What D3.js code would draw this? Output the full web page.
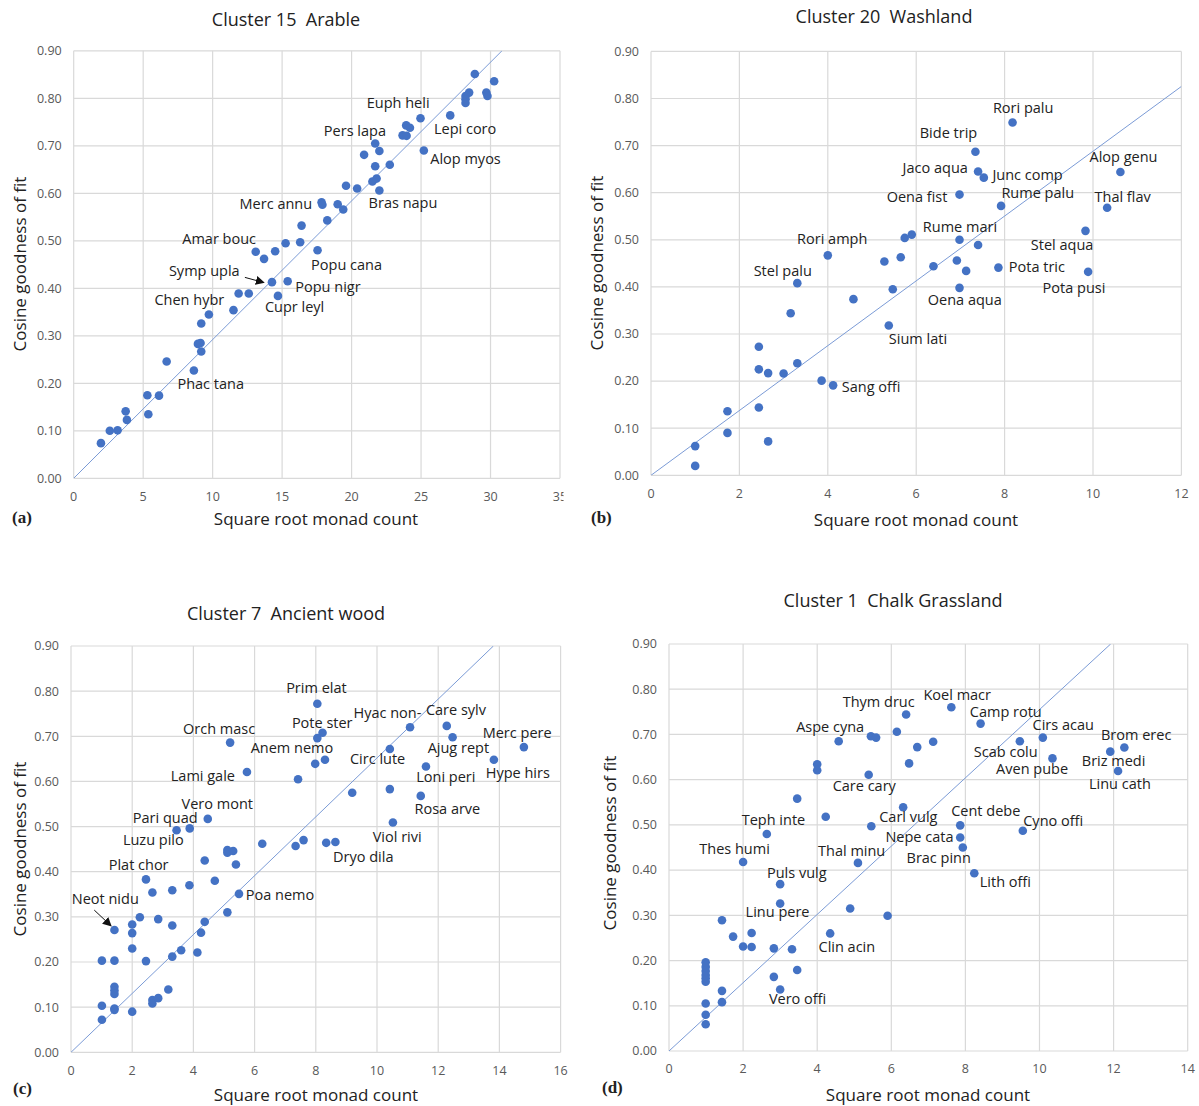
<!DOCTYPE html>
<html>
<head>
<meta charset="utf-8">
<script src="https://cdn.jsdelivr.net/npm/d3@7"></script>
<style>
    body { margin: 0; background: #fff; }
    svg text { font-family: "Open Sans", sans-serif; fill: #222; }
    .tick-label { fill: #595959; font-size: 12.5px; }
    .point-label { font-size: 14.5px; }
    .title { font-size: 18px; white-space: pre; }
    .axis-title { font-size: 17px; }
    .letter { font-family: "Liberation Serif", serif !important; font-weight: bold; font-size: 17px; }
</style>
</head>
<body>
<svg id="chart" width="1199" height="1106"></svg>
<script>
// Cluster 15 Arable: [sqrt monad count, cosine goodness of fit]
const arablePoints = [
    [1.96, 0.074], [2.6, 0.100], [3.16, 0.101], [3.74, 0.141], [3.83, 0.123],
    [5.3, 0.175], [5.37, 0.135], [6.14, 0.174], [6.69, 0.246], [8.65, 0.227],
    [8.94, 0.283], [9.13, 0.285], [9.18, 0.267], [9.18, 0.326], [9.73, 0.345],
    [11.5, 0.354], [11.87, 0.389], [12.6, 0.389], [14.27, 0.413], [15.4, 0.415],
    [14.7, 0.384], [13.1, 0.477], [13.7, 0.462], [14.5, 0.478], [15.25, 0.495],
    [16.3, 0.497], [16.4, 0.532], [17.55, 0.48], [17.84, 0.581], [17.9, 0.576],
    [18.25, 0.543], [19.0, 0.577], [19.4, 0.566], [19.6, 0.616], [20.4, 0.61],
    [21.5, 0.625], [21.8, 0.631], [22.0, 0.606], [21.7, 0.657], [22.75, 0.66],
    [20.9, 0.681], [22.0, 0.689], [21.7, 0.705], [23.67, 0.722], [23.96, 0.721],
    [23.93, 0.743], [24.2, 0.738], [24.96, 0.758], [27.1, 0.764], [25.2, 0.69],
    [28.87, 0.851], [30.26, 0.836], [28.2, 0.805], [28.46, 0.812], [28.2, 0.798],
    [28.2, 0.79], [29.7, 0.812], [29.78, 0.805]
];
const arableLabels = [
    ["Euph heli", 23.35, 0.791], ["Pers lapa", 20.24, 0.732], ["Lepi coro", 28.17, 0.736],
    ["Alop myos", 28.2, 0.672], ["Merc annu", 14.55, 0.577], ["Bras napu", 23.7, 0.580],
    ["Amar bouc", 10.47, 0.503], ["Popu cana", 19.64, 0.449], ["Symp upla", 9.4, 0.436],
    ["Popu nigr", 18.3, 0.403], ["Chen hybr", 8.32, 0.375], ["Cupr leyl", 15.9, 0.361],
    ["Phac tana", 9.86, 0.198]
];
const arableArrows = [[12.32, 0.423, 13.69, 0.412]];

// Cluster 20 Washland
const washlandPoints = [
    [1.0, 0.020], [1.0, 0.062], [1.73, 0.136], [1.73, 0.090], [2.44, 0.144],
    [2.44, 0.225], [2.44, 0.273], [2.65, 0.217], [2.65, 0.072], [3.0, 0.216],
    [3.31, 0.238], [3.16, 0.344], [3.31, 0.408], [3.86, 0.201], [4.12, 0.191],
    [4.0, 0.467], [4.58, 0.374], [5.28, 0.454], [5.65, 0.463], [5.47, 0.395],
    [5.38, 0.318], [5.74, 0.504], [5.9, 0.511], [6.39, 0.444], [8.18, 0.749],
    [7.34, 0.687], [7.4, 0.645], [7.53, 0.632], [6.98, 0.596], [7.92, 0.572],
    [10.62, 0.644], [10.32, 0.568], [9.83, 0.519], [9.89, 0.432], [7.86, 0.441],
    [6.98, 0.500], [7.4, 0.489], [6.92, 0.456], [7.13, 0.434], [6.98, 0.398]
];
const washlandLabels = [
    ["Rori palu", 8.42, 0.780], ["Bide trip", 6.73, 0.726], ["Jaco aqua", 6.43, 0.653],
    ["Junc comp", 8.52, 0.637], ["Alop genu", 10.69, 0.677], ["Oena fist", 6.02, 0.591],
    ["Rume palu", 8.75, 0.600], ["Thal flav", 10.67, 0.591], ["Rume mari", 6.99, 0.527],
    ["Rori amph", 4.1, 0.502], ["Stel aqua", 9.3, 0.490], ["Stel palu", 2.98, 0.434],
    ["Pota tric", 8.73, 0.443], ["Pota pusi", 9.57, 0.398], ["Oena aqua", 7.1, 0.372],
    ["Sium lati", 6.04, 0.290], ["Sang offi", 4.98, 0.188]
];

// Cluster 7 Ancient wood
const woodPoints = [
    [1.01, 0.072], [1.01, 0.103], [1.01, 0.203], [1.42, 0.203], [1.42, 0.271],
    [1.42, 0.145], [1.42, 0.137], [1.42, 0.129], [1.42, 0.097], [1.42, 0.094],
    [2.0, 0.090], [2.0, 0.230], [2.0, 0.264], [2.0, 0.283], [2.25, 0.299],
    [2.45, 0.202], [2.45, 0.383], [2.66, 0.354], [2.66, 0.116], [2.66, 0.108],
    [2.85, 0.120], [2.85, 0.295], [3.18, 0.139], [3.31, 0.212], [3.31, 0.281],
    [3.31, 0.359], [3.6, 0.226], [3.87, 0.370], [4.13, 0.221], [4.25, 0.265],
    [4.37, 0.289], [4.37, 0.425], [4.7, 0.380], [5.11, 0.310], [5.11, 0.448],
    [5.11, 0.442], [5.3, 0.446], [5.39, 0.416], [5.49, 0.351], [6.25, 0.462],
    [7.34, 0.457], [7.6, 0.470], [8.34, 0.464], [8.64, 0.466], [8.05, 0.772],
    [8.22, 0.708], [8.05, 0.696], [5.2, 0.686], [8.3, 0.648], [7.98, 0.639],
    [5.75, 0.621], [7.42, 0.605], [4.47, 0.517], [3.88, 0.496], [3.45, 0.492],
    [11.08, 0.720], [12.28, 0.723], [12.47, 0.698], [14.8, 0.676], [10.42, 0.672],
    [13.82, 0.648], [11.6, 0.633], [9.19, 0.575], [10.42, 0.583], [11.43, 0.568],
    [10.52, 0.509]
];
const woodLabels = [
    ["Prim elat", 8.02, 0.808], ["Hyac non-", 10.34, 0.752], ["Care sylv", 12.58, 0.758],
    ["Orch masc", 4.84, 0.717], ["Pote ster", 8.21, 0.730], ["Merc pere", 14.58, 0.708],
    ["Anem nemo", 7.22, 0.675], ["Ajug rept", 12.66, 0.675], ["Circ lute", 10.02, 0.650],
    ["Lami gale", 4.31, 0.612], ["Hype hirs", 14.6, 0.619], ["Loni peri", 12.25, 0.610],
    ["Vero mont", 4.78, 0.550], ["Rosa arve", 12.3, 0.538], ["Pari quad", 3.08, 0.519],
    ["Luzu pilo", 2.69, 0.470], ["Viol rivi", 10.66, 0.477], ["Dryo dila", 9.55, 0.433],
    ["Plat chor", 2.21, 0.415], ["Poa nemo", 6.83, 0.348], ["Neot nidu", 1.12, 0.339]
];
const woodArrows = [[0.76, 0.315, 1.31, 0.280]];

// Cluster 1 Chalk Grassland
const chalkPoints = [
    [0.99, 0.059], [0.99, 0.080], [0.99, 0.105], [0.99, 0.153], [0.99, 0.161],
    [0.99, 0.168], [0.99, 0.177], [0.99, 0.186], [0.99, 0.196], [1.43, 0.108],
    [1.43, 0.133], [1.43, 0.289], [1.73, 0.253], [2.0, 0.231], [2.23, 0.261],
    [2.23, 0.230], [2.0, 0.418], [3.0, 0.369], [3.0, 0.326], [2.83, 0.227],
    [2.83, 0.164], [3.0, 0.136], [3.32, 0.225], [3.46, 0.179], [4.35, 0.260],
    [4.89, 0.315], [5.9, 0.299], [5.1, 0.416], [6.4, 0.744], [6.15, 0.706],
    [5.45, 0.696], [5.59, 0.693], [4.58, 0.685], [7.13, 0.684], [6.7, 0.672],
    [6.48, 0.636], [4.0, 0.634], [4.0, 0.621], [5.39, 0.611], [3.46, 0.558],
    [6.32, 0.539], [4.23, 0.518], [5.46, 0.497], [2.64, 0.480], [7.62, 0.760],
    [8.41, 0.724], [9.47, 0.685], [10.09, 0.693], [10.35, 0.647], [11.91, 0.662],
    [12.29, 0.671], [12.12, 0.619], [7.86, 0.499], [7.86, 0.472], [7.93, 0.450],
    [8.24, 0.393], [9.55, 0.487]
];
const chalkLabels = [
    ["Thym druc", 5.66, 0.773], ["Koel macr", 7.78, 0.787], ["Camp rotu", 9.09, 0.750],
    ["Aspe cyna", 4.35, 0.717], ["Cirs acau", 10.64, 0.722], ["Brom erec", 12.61, 0.698],
    ["Scab colu", 9.09, 0.661], ["Briz medi", 12.0, 0.642], ["Aven pube", 9.8, 0.624],
    ["Linu cath", 12.17, 0.590], ["Care cary", 5.27, 0.587], ["Cent debe", 8.55, 0.531],
    ["Teph inte", 2.82, 0.512], ["Carl vulg", 6.46, 0.518], ["Cyno offi", 10.37, 0.509],
    ["Nepe cata", 6.76, 0.474], ["Thes humi", 1.77, 0.446], ["Thal minu", 4.93, 0.443],
    ["Brac pinn", 7.28, 0.428], ["Puls vulg", 3.45, 0.394], ["Lith offi", 9.08, 0.373],
    ["Linu pere", 2.93, 0.307], ["Clin acin", 4.8, 0.231], ["Vero offi", 3.47, 0.116]
];

const panelTitles = ["Cluster 15  Arable", "Cluster 20  Washland", "Cluster 7  Ancient wood", "Cluster 1  Chalk Grassland"];
const panelLetters = ["(a)", "(b)", "(c)", "(d)"];
const trendSlopes = [0.0292, 0.0688, 0.0652, 0.0755];
const xMaxes = [35, 12, 16, 14];
const xTickSteps = [5, 2, 2, 2];
const yTickValues = [0, 0.1, 0.2, 0.3, 0.4, 0.5, 0.6, 0.7, 0.8, 0.9];
const xTitle = "Square root monad count";
const yTitle = "Cosine goodness of fit";

const dataSets = [
    { points: arablePoints, labels: arableLabels, arrows: arableArrows },
    { points: washlandPoints, labels: washlandLabels, arrows: [] },
    { points: woodPoints, labels: woodLabels, arrows: woodArrows },
    { points: chalkPoints, labels: chalkLabels, arrows: [] }
];

// pixel layout of each panel
const layouts = [
    { left: 73.7, right: 560, top: 50.8, bottom: 478.3, clipRight: 563.5,
      titleX: 286, titleY: 20, yTitleX: 20, yTitleY: 264, xTitleX: 316, xTitleY: 519, letterX: 12, letterY: 523 },
    { left: 651, right: 1181.4, top: 51.4, bottom: 475.3, clipRight: 1199,
      titleX: 884, titleY: 17, yTitleX: 597, yTitleY: 263, xTitleX: 916, xTitleY: 520, letterX: 591, letterY: 523 },
    { left: 71, right: 560.6, top: 646, bottom: 1052.3, clipRight: 600,
      titleX: 286, titleY: 614, yTitleX: 20, yTitleY: 849, xTitleX: 316, xTitleY: 1095, letterX: 13, letterY: 1094 },
    { left: 669, right: 1187.7, top: 644, bottom: 1051, clipRight: 1199,
      titleX: 893, titleY: 601, yTitleX: 610, yTitleY: 843, xTitleX: 928, xTitleY: 1095, letterX: 602, letterY: 1093 }
];

const svg = d3.select("#chart");
const defs = svg.append("defs");

defs.append("marker")
    .attr("id", "arrowhead")
    .attr("viewBox", "0 0 10 10")
    .attr("refX", 9)
    .attr("refY", 5)
    .attr("markerWidth", 9)
    .attr("markerHeight", 9)
    .attr("markerUnits", "userSpaceOnUse")
    .attr("orient", "auto")
    .append("path")
    .attr("d", "M0,0 L10,5 L0,10 z")
    .attr("fill", "#111");

dataSets.forEach((ds, i) => {
    const lay = layouts[i];
    const x = d3.scaleLinear().domain([0, xMaxes[i]]).range([lay.left, lay.right]);
    const y = d3.scaleLinear().domain([0, 0.9]).range([lay.bottom, lay.top]);

    defs.append("clipPath").attr("id", "panel-clip-" + i)
        .append("rect").attr("x", 0).attr("y", 0).attr("width", lay.clipRight).attr("height", 1106);
    defs.append("clipPath").attr("id", "plot-clip-" + i)
        .append("rect")
        .attr("x", lay.left).attr("y", lay.top)
        .attr("width", lay.right - lay.left).attr("height", lay.bottom - lay.top);

    const g = svg.append("g").attr("clip-path", `url(#panel-clip-${i})`);

    const xTicks = d3.range(0, xMaxes[i] + 0.001, xTickSteps[i]);

    // Gridlines
    g.append("g").selectAll("line.vgrid")
        .data(xTicks)
        .join("line")
        .attr("x1", d => x(d)).attr("x2", d => x(d))
        .attr("y1", lay.top).attr("y2", lay.bottom)
        .attr("stroke", "#d9d9d9").attr("stroke-width", 1.2);

    g.append("g").selectAll("line.hgrid")
        .data(yTickValues)
        .join("line")
        .attr("x1", lay.left).attr("x2", lay.right)
        .attr("y1", d => y(d)).attr("y2", d => y(d))
        .attr("stroke", "#d9d9d9").attr("stroke-width", 1.2);

    // Tick labels
    g.append("g").selectAll("text")
        .data(yTickValues)
        .join("text")
        .attr("class", "tick-label")
        .attr("x", lay.left - 12)
        .attr("y", d => y(d))
        .attr("dy", "0.35em")
        .attr("text-anchor", "end")
        .text(d => d3.format(".2f")(d));

    g.append("g").selectAll("text")
        .data(xTicks)
        .join("text")
        .attr("class", "tick-label")
        .attr("x", d => x(d))
        .attr("y", lay.bottom + 18)
        .attr("dy", "0.35em")
        .attr("text-anchor", "middle")
        .text(d => d);

    // Trend line through the origin
    const slope = trendSlopes[i];
    const xEnd = Math.min(xMaxes[i], 0.9 / slope);
    g.append("line")
        .attr("clip-path", `url(#plot-clip-${i})`)
        .attr("x1", x(0)).attr("y1", y(0))
        .attr("x2", x(xEnd)).attr("y2", y(xEnd * slope))
        .attr("stroke", "#7b9bd6")
        .attr("stroke-width", 1);

    // Points
    g.append("g").selectAll("circle")
        .data(ds.points)
        .join("circle")
        .attr("cx", d => x(d[0]))
        .attr("cy", d => y(d[1]))
        .attr("r", 4.3)
        .attr("fill", "#4472c4");

    // Species labels
    g.append("g").selectAll("text")
        .data(ds.labels)
        .join("text")
        .attr("class", "point-label")
        .attr("x", d => x(d[1]))
        .attr("y", d => y(d[2]))
        .attr("dy", "0.35em")
        .attr("text-anchor", "middle")
        .text(d => d[0]);

    // Callout arrows
    g.append("g").selectAll("line")
        .data(ds.arrows)
        .join("line")
        .attr("x1", d => x(d[0])).attr("y1", d => y(d[1]))
        .attr("x2", d => x(d[2])).attr("y2", d => y(d[3]))
        .attr("stroke", "#111")
        .attr("stroke-width", 1)
        .attr("marker-end", "url(#arrowhead)");

    // Titles
    g.append("text")
        .attr("class", "title")
        .attr("x", lay.titleX).attr("y", lay.titleY)
        .attr("dy", "0.35em")
        .attr("text-anchor", "middle")
        .text(panelTitles[i]);

    g.append("text")
        .attr("class", "axis-title")
        .attr("x", lay.xTitleX).attr("y", lay.xTitleY)
        .attr("dy", "0.35em")
        .attr("text-anchor", "middle")
        .text(xTitle);

    g.append("text")
        .attr("class", "axis-title")
        .attr("transform", `translate(${lay.yTitleX},${lay.yTitleY}) rotate(-90)`)
        .attr("dy", "0.35em")
        .attr("text-anchor", "middle")
        .text(yTitle);

    g.append("text")
        .attr("class", "letter")
        .attr("x", lay.letterX).attr("y", lay.letterY)
        .text(panelLetters[i]);
});
</script>
</body>
</html>
